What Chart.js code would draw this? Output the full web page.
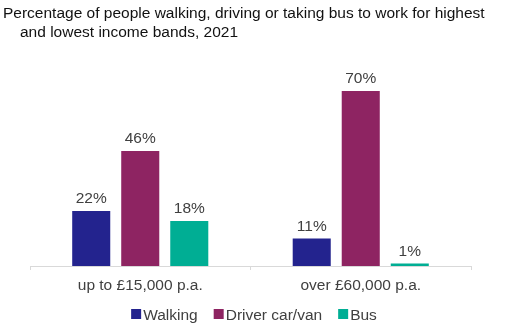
<!DOCTYPE html>
<html>
<head>
<meta charset="utf-8">
<script src="https://cdn.jsdelivr.net/npm/chart.js@4"></script>
<style>
html,body{margin:0;padding:0;background:#fff;}
canvas{display:block;}
</style>
</head>
<body>
<canvas id="c" width="513" height="333"></canvas>
<script>
const titleLines = ["Percentage of people walking, driving or taking bus to work for highest", "and lowest income bands, 2021"];
const categories = ["up to £15,000 p.a.", "over £60,000 p.a."];
const seriesNames = ["Walking", "Driver car/van", "Bus"];
const walking = [22, 11];
const driver = [46, 70];
const bus = [18, 1];
const colors = ["#23238E", "#8E2462", "#00AE94"];

const FONT = "'Liberation Sans', Arial, sans-serif";
const TEXT = "#404040";

const customDraw = {
  id: 'customDraw',
  afterDraw(chart) {
    const ctx = chart.ctx;
    ctx.save();
    // title
    ctx.fillStyle = "#111111";
    ctx.font = "15.5px " + FONT;
    ctx.textAlign = "left";
    ctx.textBaseline = "alphabetic";
    ctx.fillText(titleLines[0], 3, 18);
    ctx.fillText(titleLines[1], 20, 37);
    // data labels
    ctx.fillStyle = TEXT;
    ctx.textAlign = "center";
    chart.data.datasets.forEach((ds, i) => {
      const meta = chart.getDatasetMeta(i);
      meta.data.forEach((bar, j) => {
        ctx.fillText(ds.data[j] + "%", bar.x, bar.y - 8);
      });
    });
    // legend
    ctx.textAlign = "left";
    const box = 10, gap = 2, between = 16;
    const widths = chart.data.datasets.map(ds => box + gap + ctx.measureText(ds.label).width);
    const total = widths.reduce((a, b) => a + b, 0) + between * (widths.length - 1);
    let x = 254 - total / 2;
    chart.data.datasets.forEach((ds, i) => {
      ctx.fillStyle = ds.backgroundColor;
      ctx.fillRect(x, 309, box, box);
      ctx.fillStyle = TEXT;
      ctx.fillText(ds.label, x + box + gap, 320);
      x += widths[i] + between;
    });
    ctx.restore();
  }
};

new Chart(document.getElementById('c'), {
  type: 'bar',
  data: {
    labels: categories,
    datasets: [
      { label: seriesNames[0], data: walking, backgroundColor: colors[0] },
      { label: seriesNames[1], data: driver, backgroundColor: colors[1] },
      { label: seriesNames[2], data: bus, backgroundColor: colors[2] }
    ]
  },
  options: {
    responsive: false,
    animation: false,
    devicePixelRatio: 1,
    layout: { padding: { left: 30, right: 42, top: 66, bottom: 0 } },
    categoryPercentage: 0.667,
    barPercentage: 0.776,
    plugins: {
      legend: { display: false },
      title: { display: false },
      tooltip: { enabled: false }
    },
    scales: {
      y: { display: false, min: 0, max: 80 },
      x: {
        afterFit(scale) { scale.height = 67; },
        border: { display: true, color: '#d9d9d9', width: 1 },
        grid: { display: true, drawOnChartArea: false, drawTicks: true, tickLength: 4, color: '#d9d9d9', offset: true },
        ticks: { color: TEXT, padding: 6, font: { size: 15.5, family: FONT } }
      }
    }
  },
  plugins: [customDraw]
});
</script>
</body>
</html>
